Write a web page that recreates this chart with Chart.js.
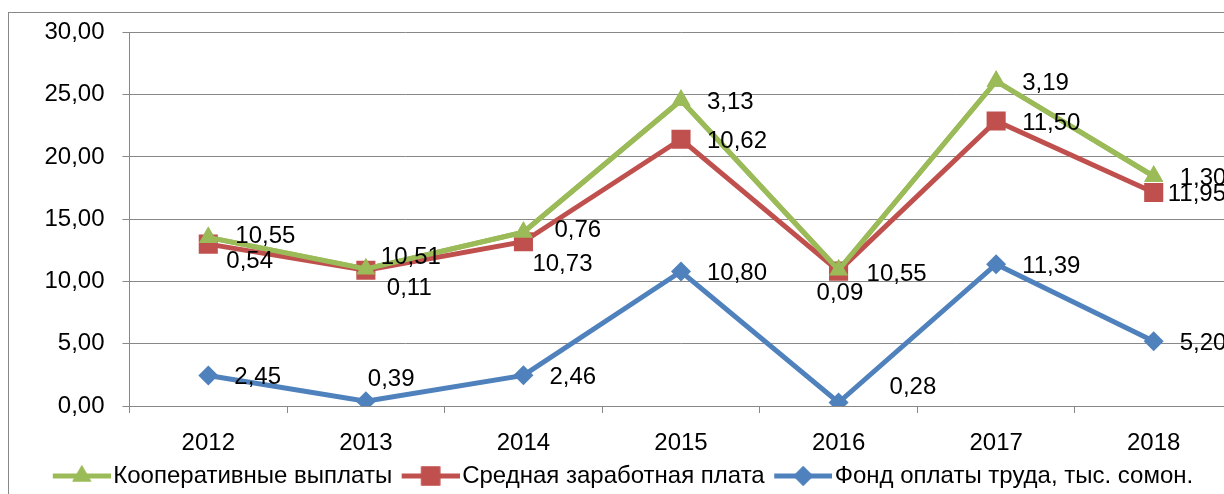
<!DOCTYPE html>
<html>
<head>
<meta charset="utf-8">
<script src="https://cdn.jsdelivr.net/npm/chart.js@4"></script>
<style>
  html, body { margin: 0; padding: 0; background: #fff; overflow: hidden; }
  .chart-box { position: absolute; left: 0; top: 0; width: 1246px; height: 494px; }
</style>
</head>
<body>
<div class="chart-box"><canvas id="lineChart"></canvas></div>
<script>
// data (stacked lines)
const years = ['2012', '2013', '2014', '2015', '2016', '2017', '2018'];
const fondValues = [2.45, 0.39, 2.46, 10.80, 0.28, 11.39, 5.20];
const salaryValues = [10.55, 10.51, 10.73, 10.62, 10.55, 11.50, 11.95];
const coopValues = [0.54, 0.11, 0.76, 3.13, 0.09, 3.19, 1.30];
const seriesNames = ['Фонд оплаты труда, тыс. сомон.', 'Средная заработная плата', 'Кооперативные выплаты'];
const yMin = 0, yMax = 30, yStep = 5;

const green = '#9BBB59';
const red = '#C0504D';
const blue = '#4F81BD';
const fontName = '"Liberation Sans", Arial, sans-serif';
const fontSize = 24;

// label nudges where the default (right of the point) was moved by hand
const defaultNudge = [26, 2];
const labelNudge = [
  { 1: [2, -22], 4: [51, -15] },
  { 0: [27, -8], 1: [15, -13], 2: [9, 23], 4: [28, 3], 6: [14, 2] },
  { 0: [18, 24], 1: [21, 19], 2: [31, -2], 4: [-22, 23] }
];

const fmt = function (v) {
  return v.toFixed(2).replace('.', ',');
};

const makeLegendIcon = function (color, style, radius) {
  let c = document.createElement('canvas');
  c.width = 67;
  c.height = 26;
  let ctx = c.getContext('2d');
  ctx.strokeStyle = color;
  ctx.lineWidth = 5;
  ctx.beginPath();
  ctx.moveTo(9, 13);
  ctx.lineTo(67, 13);
  ctx.stroke();
  ctx.fillStyle = color;
  Chart.helpers.drawPoint(ctx, { pointStyle: style, radius: radius, borderWidth: 0, rotation: 0 }, 38, 13);
  ctx.fill();
  return c;
};

const borderPlugin = {
  id: 'outerBorder',
  beforeDraw(chart) {
    const ctx = chart.ctx;
    ctx.save();
    ctx.strokeStyle = '#888888';
    ctx.lineWidth = 1;
    ctx.strokeRect(8.5, 12.5, 1400, 700);
    ctx.restore();
  }
};

const greenOnTop = {
  id: 'greenOnTop',
  afterDatasetsDraw(chart) {
    chart.getDatasetMeta(2).controller.draw();
  }
};

const valueLabels = {
  id: 'valueLabels',
  afterDatasetsDraw(chart) {
    const ctx = chart.ctx;
    ctx.save();
    ctx.font = fontSize + 'px ' + fontName;
    ctx.fillStyle = '#000';
    ctx.textAlign = 'left';
    ctx.textBaseline = 'middle';
    chart.data.datasets.forEach(function (ds, di) {
      const meta = chart.getDatasetMeta(di);
      meta.data.forEach(function (pt, i) {
        const n = labelNudge[di][i] || defaultNudge;
        ctx.fillText(fmt(ds.data[i]), pt.x + n[0], pt.y + n[1]);
      });
    });
    ctx.restore();
  }
};

document.addEventListener('DOMContentLoaded', function () {
  const legendIcons = [
    makeLegendIcon(blue, 'rectRot', 10),
    makeLegendIcon(red, 'rect', 13.5),
    makeLegendIcon(green, 'triangle', 11)
  ];

  const ctx = document.getElementById('lineChart').getContext('2d');
  const config = {
    type: 'line',
    data: {
      labels: years,
      datasets: [
        {
          label: seriesNames[0],
          data: fondValues,
          borderColor: blue,
          backgroundColor: blue,
          borderWidth: 5,
          pointStyle: 'rectRot',
          pointRadius: 10,
          pointBorderWidth: 0,
          fill: false
        },
        {
          label: seriesNames[1],
          data: salaryValues,
          borderColor: red,
          backgroundColor: red,
          borderWidth: 5,
          pointStyle: 'rect',
          pointRadius: 13.5,
          pointBorderWidth: 0,
          fill: false
        },
        {
          label: seriesNames[2],
          data: coopValues,
          borderColor: green,
          backgroundColor: green,
          borderWidth: 5,
          pointStyle: 'triangle',
          pointRadius: 11,
          pointBorderWidth: 0,
          fill: false
        }
      ]
    },
    options: {
      responsive: true,
      maintainAspectRatio: false,
      animation: false,
      layout: {
        padding: { left: 8, right: 7.5, top: 23, bottom: -4 }
      },
      scales: {
        x: {
          offset: true,
          afterFit: function (scale) {
            scale.height = 48;
          },
          grid: {
            offset: true,
            drawOnChartArea: false,
            tickLength: 7,
            color: '#888888'
          },
          border: { color: '#888888' },
          ticks: {
            color: '#000',
            padding: 16,
            font: { family: fontName, size: fontSize }
          }
        },
        y: {
          stacked: true,
          min: yMin,
          max: yMax,
          afterFit: function (scale) {
            scale.width = 121.5;
          },
          grid: {
            color: '#888888',
            tickLength: 7
          },
          border: { color: '#888888' },
          ticks: {
            stepSize: yStep,
            color: '#000',
            padding: 18,
            font: { family: fontName, size: fontSize },
            callback: function (v) {
              return fmt(v);
            }
          }
        }
      },
      plugins: {
        title: { display: false },
        tooltip: { enabled: false },
        legend: {
          display: true,
          position: 'bottom',
          reverse: true,
          labels: {
            usePointStyle: true,
            pointStyleWidth: 48,
            padding: 10,
            color: '#000',
            font: { family: fontName, size: fontSize },
            generateLabels: function (chart) {
              const items = Chart.defaults.plugins.legend.labels.generateLabels(chart);
              items.forEach(function (item) {
                item.pointStyle = legendIcons[item.datasetIndex];
              });
              return items;
            }
          }
        }
      }
    },
    plugins: [borderPlugin, greenOnTop, valueLabels]
  };
  let lineChart = new Chart(ctx, config);
});
</script>
</body>
</html>
